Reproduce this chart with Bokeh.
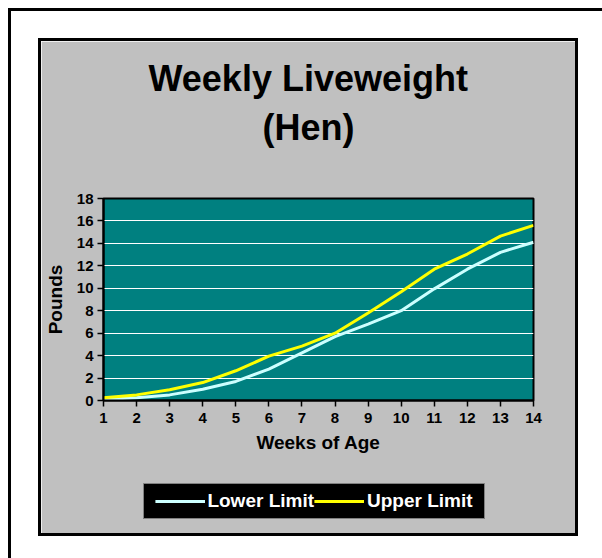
from bokeh.plotting import figure
from bokeh.models import FixedTicker, Legend, LegendItem, Title
from bokeh.layouts import column
from bokeh.embed import file_html
from bokeh.resources import INLINE

weeks = list(range(1, 15))
lower_limit = [0.1, 0.25, 0.5, 1.0, 1.7, 2.8, 4.25, 5.7, 6.8, 8.0, 9.95, 11.7, 13.2, 14.1]
upper_limit = [0.25, 0.5, 0.95, 1.6, 2.65, 3.95, 4.85, 6.0, 7.8, 9.7, 11.7, 13.05, 14.65, 15.6]
y_ticks = [0, 2, 4, 6, 8, 10, 12, 14, 16, 18]
title_lines = ["Weekly Liveweight", "(Hen)"]
series_names = ["Lower Limit", "Upper Limit"]
series_colors = ["#CCFFFF", "#FFFF00"]

FONT = "Liberation Sans"

p = figure(width=534, height=492, x_range=(1, 14), y_range=(0, 18),
           output_backend="svg", toolbar_location=None,
           min_border_left=62, min_border_right=42,
           min_border_top=157, min_border_bottom=133)
# grey panel border and the outer page frame are drawn as box shadows
p.styles = {
    "position": "relative", "left": "41px", "top": "41px",
    "box-shadow": "0 0 0 3px black, 48px 48px 0 78px white, 46px 46px 0 79px black",
}
p.background_fill_color = "#008080"
p.border_fill_color = "#C0C0C0"
p.outline_line_color = "black"
p.outline_line_width = 2

p.xgrid.visible = False
p.ygrid.grid_line_color = "white"
p.ygrid.grid_line_width = 1
p.ygrid.ticker = FixedTicker(ticks=y_ticks)

p.xaxis.ticker = FixedTicker(ticks=weeks)
p.yaxis.ticker = FixedTicker(ticks=y_ticks)
for ax in (p.xaxis, p.yaxis):
    ax.axis_line_color = "black"
    ax.axis_line_width = 2
    ax.major_tick_line_color = "black"
    ax.major_tick_line_width = 1.5
    ax.major_tick_in = 0
    ax.major_tick_out = 6
    ax.minor_tick_line_color = None
    ax.major_label_text_font = FONT
    ax.major_label_text_font_style = "bold"
    ax.major_label_text_font_size = "15px"
    ax.major_label_text_color = "black"
    ax.axis_label_text_font = FONT
    ax.axis_label_text_font_style = "bold"
    ax.axis_label_text_font_size = "19px"
    ax.axis_label_text_color = "black"

p.xaxis.axis_label = "Weeks of Age"
p.yaxis.axis_label = "Pounds"
p.xaxis.major_label_standoff = 6
p.yaxis.major_label_standoff = 4
p.xaxis.axis_label_standoff = 6
p.yaxis.axis_label_standoff = 8

p.line(weeks, lower_limit, line_color=series_colors[0], line_width=3)
p.line(weeks, upper_limit, line_color=series_colors[1], line_width=3)

# spacer between frame and the title lines
p.add_layout(Title(text=" ", text_font_size="10px", standoff=36), "above")
p.add_layout(Title(text=title_lines[1], align="left", offset=159, standoff=4,
                   text_font=FONT, text_font_style="bold", text_font_size="36px",
                   text_color="black"), "above")
p.add_layout(Title(text=title_lines[0], align="left", offset=45, standoff=8,
                   text_font=FONT, text_font_style="bold", text_font_size="36px",
                   text_color="black"), "above")

# legend box: a small separate figure placed under the x-axis label.
# Its side borders match the main plot (the column aligns them) and are transparent.
lg = figure(width=445, height=36, x_range=(100, 101), y_range=(100, 101),
            x_axis_location=None, y_axis_location=None,
            output_backend="svg", toolbar_location=None,
            min_border_left=62, min_border_right=42, min_border_top=0, min_border_bottom=0)
lg.styles = {"position": "relative", "left": "81px", "top": "-9px"}
lg.grid.visible = False
lg.background_fill_color = "black"
lg.border_fill_alpha = 0
lg.outline_line_color = "#808080"
lg.outline_line_width = 1
r_low = lg.line(weeks, lower_limit, line_color=series_colors[0], line_width=3)
r_up = lg.line(weeks, upper_limit, line_color=series_colors[1], line_width=3)

legend = Legend(items=[LegendItem(label=series_names[0], renderers=[r_low]),
                       LegendItem(label=series_names[1], renderers=[r_up])],
                orientation="horizontal", location="center")
legend.background_fill_alpha = 0
legend.border_line_color = None
legend.label_text_color = "white"
legend.label_text_font = FONT
legend.label_text_font_style = "bold"
legend.label_text_font_size = "19px"
legend.glyph_width = 50
legend.label_standoff = 3
legend.spacing = 0
legend.padding = 6
legend.margin = 0
lg.add_layout(legend, "center")

page = column(p, lg, spacing=0)

open("out.html", "w").write(file_html(page, INLINE))
